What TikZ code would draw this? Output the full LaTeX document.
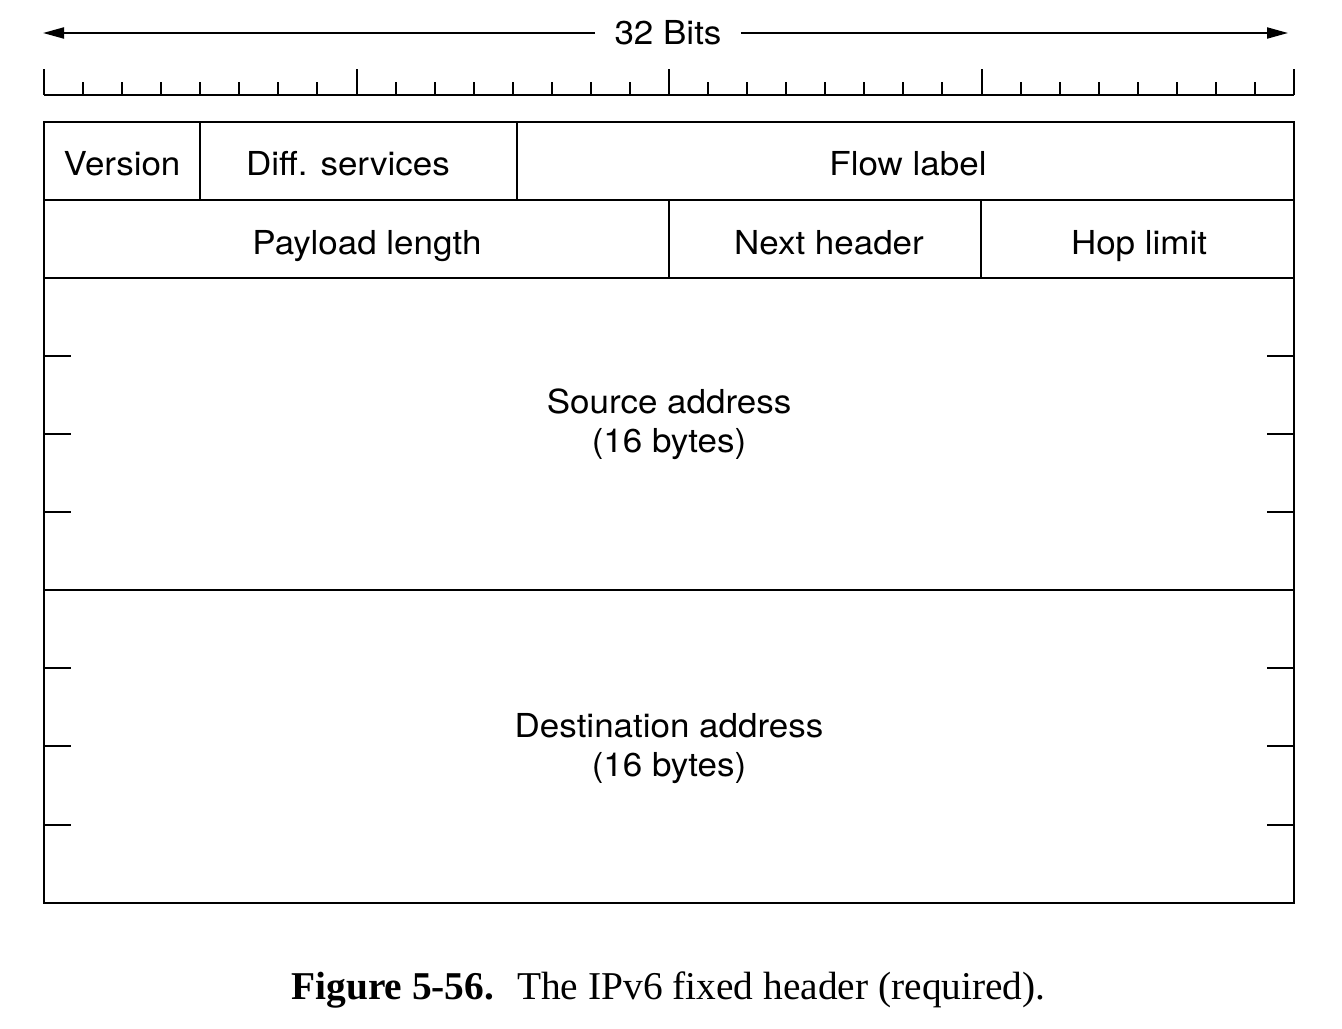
\documentclass[tikz,border=0pt]{standalone}
\usepackage{fontspec}
\setmainfont{Liberation Serif}
\newfontfamily\hv[FakeStretch=1.06]{TeX Gyre Heros}
\usetikzlibrary{arrows.meta}
\begin{document}
\begin{tikzpicture}[x=0.5pt,y=-0.5pt,
  rule/.style={line width=1pt},
  lbl/.style={font=\hv\fontsize{16.5}{19.5}\selectfont, inner sep=0pt, anchor=base},
  dimarrow/.style={line width=1pt, -{Triangle[length=10.5pt,width=5.5pt]}},
  sidetick/.style={line width=1pt}]
  \useasboundingbox (0,0) rectangle (1342,1028);
  \def\b{39.0625}

  % width indicator
  \node[lbl, inner xsep=9.5pt] (bits) at (668,44) {32 Bits};
  \coordinate (bl) at (43,33);
  \coordinate (br) at (1288,33);
  \draw[dimarrow] (bits.west |- bl) -- (bl);
  \draw[dimarrow] (bits.east |- br) -- (br);

  % bit ruler
  \draw[rule] (44,95) -- (1294,95);
  \foreach \i in {1,...,31} \draw[rule] (44+\i*\b,95) -- (44+\i*\b,82);
  \foreach \i in {0,8,16,24,32} \draw[rule] (44+\i*\b,95) -- (44+\i*\b,69);

  % header outline and field borders
  \draw[rule] (44,122) rectangle (1294,903);
  \draw[rule] (44,200) -- (1294,200);
  \draw[rule] (44,278) -- (1294,278);
  \draw[rule] (44,590) -- (1294,590);
  \draw[rule] (200,122) -- (200,200);
  \draw[rule] (517,122) -- (517,200);
  \draw[rule] (669,200) -- (669,278);
  \draw[rule] (981,200) -- (981,278);

  % 32-bit word marks on the address fields
  \foreach \y in {356,434,512,668,746,825} {
    \draw[sidetick] (44,\y) -- (71,\y);
    \draw[sidetick] (1267,\y) -- (1294,\y);
  }

  % field names
  \node[lbl] (version) at (122,175) {Version};
  \node[lbl] (diffserv) at (348,175) {Diff. services};
  \node[lbl] (flow) at (908,175) {Flow label};
  \node[lbl] (payload) at (367,254) {Payload length};
  \node[lbl] (next) at (829,254) {Next header};
  \node[lbl] (hop) at (1139,254) {Hop limit};
  \node[lbl, align=center] (src) at (669,452) {Source address\\(16 bytes)};
  \node[lbl, align=center] (dst) at (669,776) {Destination address\\(16 bytes)};

  % caption
  \node[anchor=base west, inner sep=0pt, font=\fontsize{19.7}{23}\selectfont] (caption) at (291,999)
    {\textbf{Figure 5-56.}\hspace{11.5pt}The IPv6 fixed header (required).};
\end{tikzpicture}
\end{document}
